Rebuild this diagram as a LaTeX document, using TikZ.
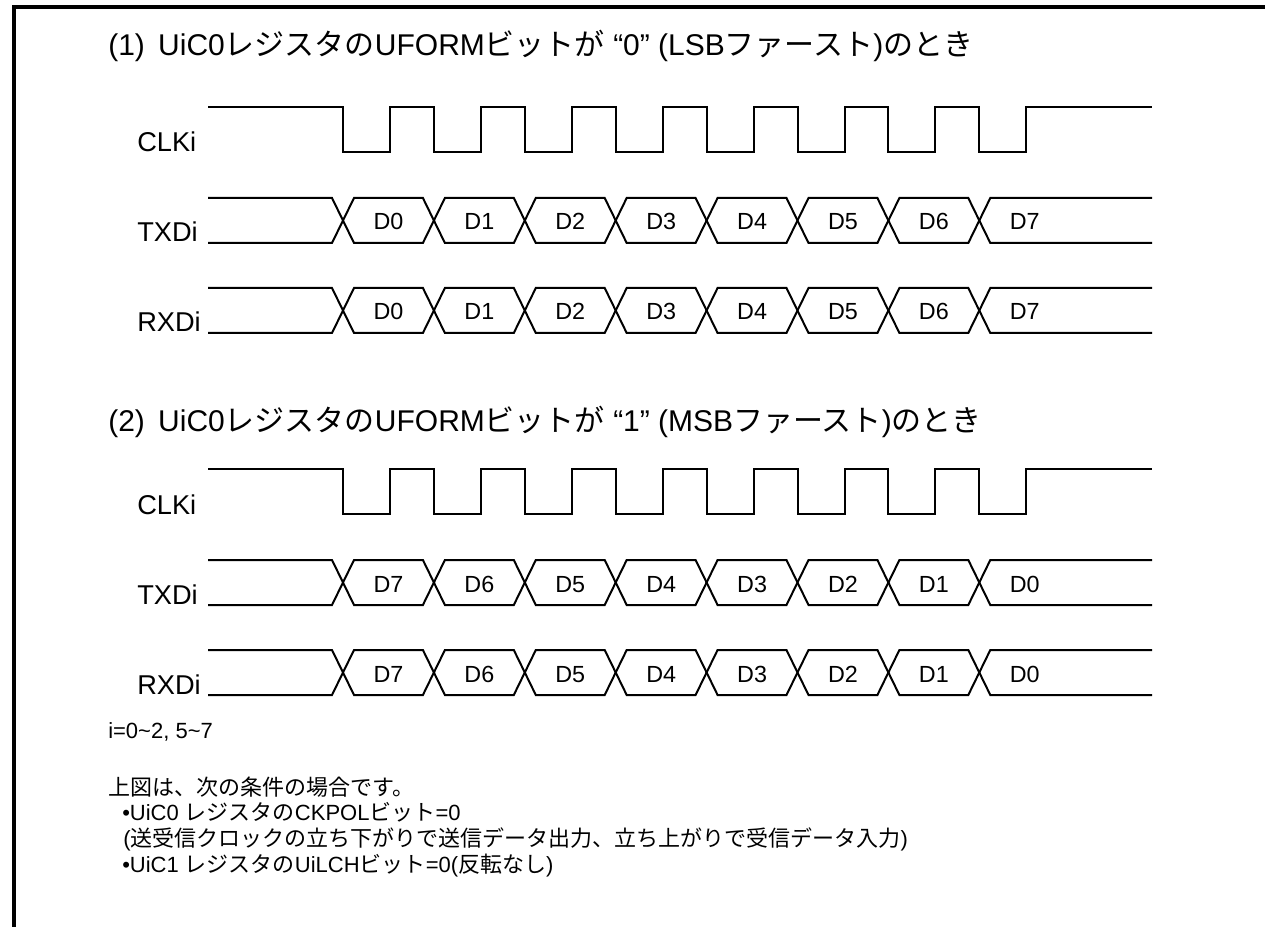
\documentclass[tikz,border=0pt]{standalone}
\usepackage{fontspec}
\setmainfont{Liberation Sans}
\newfontfamily\jp{Noto Sans CJK JP}

\tikzset{
  sig/.style={line width=1.5pt, line join=miter},
  frame/.style={line width=2.6pt},
  head/.style={anchor=base west, inner sep=0pt, font=\fontsize{22.5}{26}\selectfont},
  pin/.style={anchor=base west, inner sep=0pt, font=\fontsize{20.4}{24}\selectfont},
  bit/.style={anchor=base, inner sep=0pt, font=\fontsize{17.5}{20}\selectfont},
  note/.style={anchor=base west, inner sep=0pt, font=\fontsize{16.5}{19.5}\selectfont},
}

\begin{document}
\begin{tikzpicture}[x=0.75pt, y=-0.75pt]
  \useasboundingbox (0,0) rectangle (1265,927);
  \draw[frame] (14,927) -- (14,7) -- (1265,7);

  % titles
  \node[head] (head1) at (108,56) {(1)\hspace{10pt}UiC0{\jp レジスタの}UFORM{\jp ビットが} “0” (LSB{\jp ファースト}){\jp のとき}};
  \node[head] (head2) at (108,432) {(2)\hspace{10pt}UiC0{\jp レジスタの}UFORM{\jp ビットが} “1” (MSB{\jp ファースト}){\jp のとき}};

  \foreach \dy/\s in {0/1, 362/2} {
    % clock
    \draw[sig] (208,107+\dy) -- (343,107+\dy)
      \foreach \k in {0,...,7} { -- ++(0,45) -- ++(47,0) -- ++(0,-45) -- ++(43.9,0) }
      -- (1152,107+\dy);
    \node[pin] (clk\s) at (137,152+\dy) {CLKi};
    % data rows
    \foreach \yh/\sig in {198/TXDi, 288/RXDi} {
      \pgfmathsetmacro\yt{\yh+\dy}
      \pgfmathsetmacro\yb{\yt+45}
      \pgfmathsetmacro\ym{\yt+22.5}
      \draw[sig] (208,\yt) -- (332,\yt) -- (343,\ym) -- (332,\yb) -- (208,\yb);
      \foreach \k in {0,...,6} {
        \pgfmathsetmacro\ca{343+90.9*\k}
        \pgfmathsetmacro\cb{\ca+90.9}
        \draw[sig] (\ca,\ym) -- (\ca+11,\yt) -- (\cb-11,\yt) -- (\cb,\ym)
          -- (\cb-11,\yb) -- (\ca+11,\yb) -- cycle;
      }
      \draw[sig] (1152,\yt) -- (990.3,\yt) -- (979.3,\ym) -- (990.3,\yb) -- (1152,\yb);
      \node[pin] (\sig\s) at (137,\yb-1) {\sig};
      \foreach \k in {0,...,7} {
        \pgfmathtruncatemacro\b{\s==1 ? \k : 7-\k}
        \node[bit] (\sig\s d\k) at (388.5+90.9*\k,\yb-13) {D\b};
      }
    }
  }

  % notes
  \node[note] (range) at (108,738) {i=0\textasciitilde 2, 5\textasciitilde 7};
  \node[note] (cond) at (108,795) {{\jp 上図は、次の条件の場合です。}};
  \node[note] (ckpol) at (122,820) {•UiC0 {\jp レジスタの}CKPOL{\jp ビット}=0};
  \node[note] (edge) at (123,846) {({\jp 送受信クロックの立ち下がりで送信データ出力、立ち上がりで受信データ入力})};
  \node[note] (lch) at (122,872) {•UiC1 {\jp レジスタの}UiLCH{\jp ビット}=0({\jp 反転なし})};
\end{tikzpicture}
\end{document}
